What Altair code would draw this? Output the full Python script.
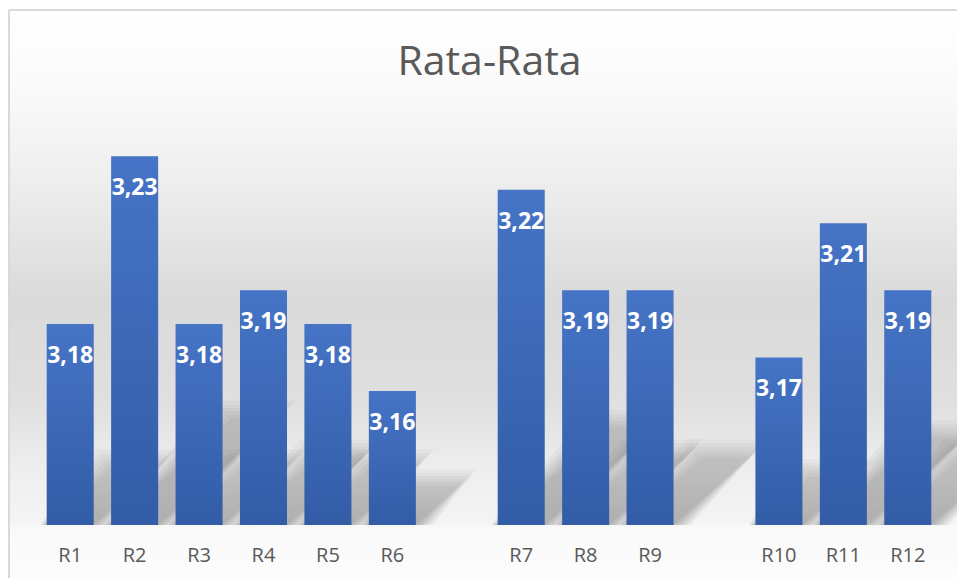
import altair as alt
import pandas as pd

# Average score per group (R1..R12); two empty slots separate the three groups
NAMES = ["R1", "R2", "R3", "R4", "R5", "R6", "R7", "R8", "R9", "R10", "R11", "R12"]
VALUES = [3.18, 3.23, 3.18, 3.19, 3.18, 3.16, 3.22, 3.19, 3.19, 3.17, 3.21, 3.19]
SLOTS = ["R1", "R2", "R3", "R4", "R5", "R6", " ", "R7", "R8", "R9", "  ", "R10", "R11", "R12"]
TITLE = "Rata-Rata"

BASE = 3.12
Y_DOMAIN = [BASE, 3.245]
W, H = 902, 419
PAD = {"left": 38, "top": 106, "right": 17, "bottom": 53}
PAD_INNER = 0.27
HALF_BAR = (1 - PAD_INNER) / 2

bars = pd.DataFrame({
    "name": NAMES,
    "value": VALUES,
    "label": [f"{v:.2f}".replace(".", ",") for v in VALUES],
})

# Soft "floor" shadow behind each bar: a parallelogram leaning up and to the right,
# sized in proportion to the bar's height; stacked, widened copies fake the blur.
GROW = [0.0, 0.05, 0.10, 0.15, 0.20, 0.26]
shadow_rows = []
for name, v in zip(NAMES, VALUES):
    s = SLOTS.index(name) + 0.5
    h = v - BASE
    shift = 17.0 * h          # slots
    rise = 0.29 * h           # value units
    for lvl, grow in enumerate(GROW):
        key = f"{name}-{lvl}"
        shadow_rows.append({"key": key, "y": BASE,
                            "xa": s - HALF_BAR - grow * 0.4, "xb": s + HALF_BAR + grow})
        shadow_rows.append({"key": key, "y": BASE + rise + grow * 0.02,
                            "xa": s - HALF_BAR + shift - grow, "xb": s + HALF_BAR + shift + grow})
shadow = pd.DataFrame(shadow_rows)

bg_fill = {
    "gradient": "linear", "x1": 0, "y1": 0, "x2": 0, "y2": 1,
    "stops": [
        {"offset": 0.0, "color": "#ffffff"},
        {"offset": 0.158, "color": "#f9f9f9"},
        {"offset": 0.335, "color": "#ebebeb"},
        {"offset": 0.511, "color": "#dadada"},
        {"offset": 0.687, "color": "#dfdfdf"},
        {"offset": 0.81, "color": "#eeeeee"},
        {"offset": 0.901, "color": "#f4f4f4"},
        {"offset": 0.912, "color": "#f9f9f9"},
        {"offset": 1.0, "color": "#fcfcfc"},
    ],
}

bar_fill = {
    "gradient": "linear", "x1": 0, "y1": 0, "x2": 0, "y2": 1,
    "stops": [
        {"offset": 0.0, "color": "#4674c6"},
        {"offset": 1.0, "color": "#325ca6"},
    ],
}

shadow_fill = {
    "gradient": "linear", "x1": 0, "y1": 1, "x2": 0, "y2": 0,
    "stops": [
        {"offset": 0.0, "color": "rgba(0,0,0,0.055)"},
        {"offset": 1.0, "color": "rgba(0,0,0,0.032)"},
    ],
}

one = pd.DataFrame({"k": [0]})
FRAME_X, FRAME_Y = -29, -96
RIGHT_EDGE, BOTTOM_EDGE = W + PAD["right"], H + PAD["bottom"]

background = alt.Chart(one).mark_rect(fill=bg_fill, strokeWidth=0).encode(
    x=alt.value(FRAME_X), x2=alt.value(RIGHT_EDGE),
    y=alt.value(FRAME_Y), y2=alt.value(BOTTOM_EDGE),
)

# chart frame: only its top and left edges fall inside the page
frame_top = alt.Chart(one).mark_rule(color="#d9d9d9", strokeWidth=2).encode(
    x=alt.value(FRAME_X), x2=alt.value(RIGHT_EDGE), y=alt.value(FRAME_Y)
)
frame_left = alt.Chart(one).mark_rule(color="#d9d9d9", strokeWidth=2).encode(
    x=alt.value(FRAME_X), y=alt.value(FRAME_Y), y2=alt.value(BOTTOM_EDGE)
)

shadows = alt.Chart(shadow).mark_area(orient="horizontal", fill=shadow_fill).encode(
    y=alt.Y("y:Q", scale=alt.Scale(domain=Y_DOMAIN, zero=False, nice=False), axis=None),
    x=alt.X("xa:Q", scale=alt.Scale(domain=[0, len(SLOTS)], zero=False, nice=False), axis=None),
    x2="xb:Q",
    detail="key:N",
)

band_scale = alt.Scale(domain=SLOTS, paddingInner=PAD_INNER, paddingOuter=PAD_INNER / 2)
x_band = alt.X(
    "name:N",
    sort=SLOTS,
    scale=band_scale,
    axis=alt.Axis(title=None, domain=False, ticks=False, grid=False, labelAngle=0,
                  labelFont="Open Sans", labelFontSize=20, labelColor="#595959",
                  labelPadding=20, zindex=2),
)
y_val = alt.Y("value:Q", scale=alt.Scale(domain=Y_DOMAIN, zero=False, nice=False), axis=None)

bar_layer = alt.Chart(bars).mark_bar(fill=bar_fill).encode(
    x=x_band, y=y_val, y2=alt.datum(BASE)
)

labels = alt.Chart(bars).mark_text(
    dy=39, baseline="alphabetic", align="center", font="Open Sans",
    fontWeight="bold", fontSize=23, color="white"
).encode(
    x=alt.X("name:N", sort=SLOTS, scale=band_scale, axis=None),
    y=y_val, text="label:N",
)

title = alt.Chart(pd.DataFrame({"t": [TITLE]})).mark_text(
    font="Open Sans", fontSize=41, color="#595959", align="center", baseline="alphabetic"
).encode(x=alt.value(451.5), y=alt.value(-31), text="t:N")

chart = alt.layer(
    background, frame_top, frame_left, shadows, bar_layer, labels, title
).resolve_scale(
    x="independent"
).properties(
    width=W, height=H,
    autosize="none",
    padding=PAD,
).configure_view(stroke=None).configure(background="#ffffff")

chart.save("out.html", embed_options={"renderer": "svg", "actions": False})
